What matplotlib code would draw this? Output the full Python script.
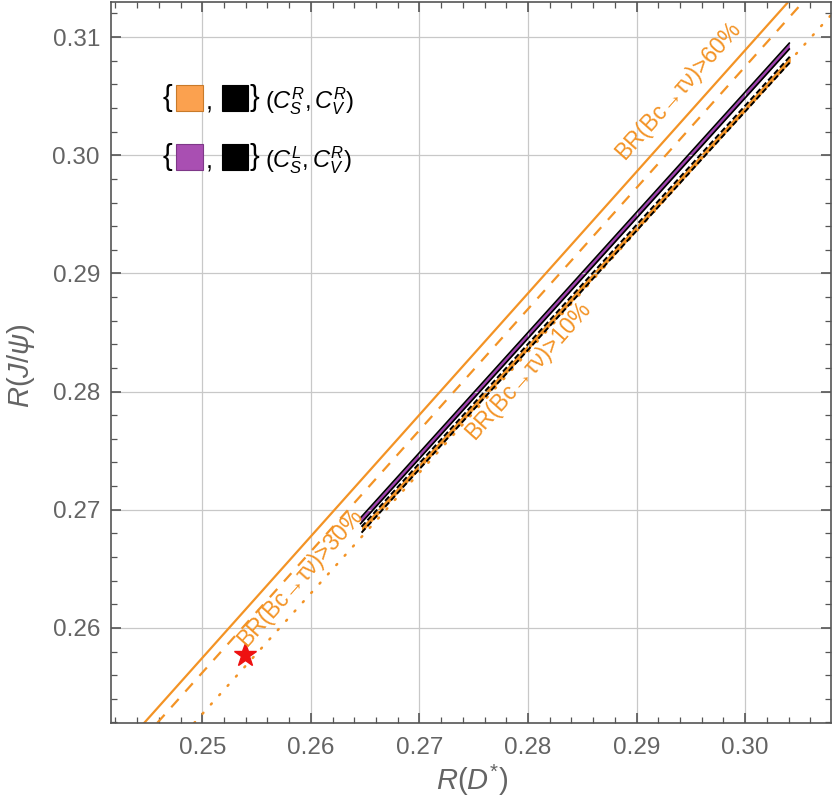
import matplotlib.pyplot as plt
from matplotlib.patches import Rectangle
import numpy as np

plt.rcParams['font.family'] = ['Liberation Sans', 'DejaVu Sans']
plt.rcParams['mathtext.fontset'] = 'custom'
plt.rcParams['mathtext.rm'] = 'Liberation Sans'
plt.rcParams['mathtext.it'] = 'Liberation Sans:italic'

# Contornos BR(Bc -> tau nu): extremos
br60_x = [0.24465, 0.30387]
br60_y = [0.25195, 0.31288]
br30_x = [0.24585, 0.30507]
br30_y = [0.25195, 0.31271]
br10_x = [0.24926, 0.30790]
br10_y = [0.25195, 0.31186]

# Regiones permitidas (bandas estrechas)
banda_L_x = [0.26458, 0.30406]   # (C_S^L, C_V^R): morada
banda_L_y = [0.26907, 0.30924]
banda_R_x = [0.26467, 0.30415]   # (C_S^R, C_V^R): naranja
banda_R_y = [0.26831, 0.30814]

# Prediccion del SM
sm_x = 0.2539
sm_y = 0.2577

xticks = [0.25, 0.26, 0.27, 0.28, 0.29, 0.30]
yticks = [0.26, 0.27, 0.28, 0.29, 0.30, 0.31]

naranja = '#F39325'
morado = '#A040B0'
gris = '#646464'

fig = plt.figure(figsize=(8.34, 8.08), dpi=100)
ax = fig.add_axes([0.1331, 0.1052, 0.8633, 0.8923])

ax.plot(br60_x, br60_y, color=naranja, lw=1.6)
ax.plot(br30_x, br30_y, color=naranja, lw=1.6, ls=(0, (5, 4.5)))
ax.plot(br10_x, br10_y, color=naranja, lw=1.8, ls=(0, (0.5, 4.5)), dash_capstyle='round')

# bandas
hw = 0.00025
xs = np.array(banda_L_x)
ys = np.array(banda_L_y)
ax.fill_between(xs, ys - hw, ys + hw, color=morado, lw=0)
ax.plot(xs, ys + hw, color='black', lw=1.2)
ax.plot(xs, ys - hw, color='black', lw=1.2)
xs = np.array(banda_R_x)
ys = np.array(banda_R_y)
ax.fill_between(xs, ys - hw, ys + hw, color=naranja, lw=0)
ax.plot(xs, ys + hw, color='black', lw=1.4, ls=(0, (3, 1.5)))
ax.plot(xs, ys - hw, color='black', lw=1.4, ls=(0, (3, 1.5)))

ax.plot(sm_x, sm_y, marker='*', color='#EE1111', ms=17, mec='#EE1111')

# etiquetas de contornos
ang = 48.3
ax.text(0.29382, 0.30551, 'BR(Bc→τν)>60%', color=naranja,
        fontsize=16.5, rotation=ang, ha='center', va='center', rotation_mode='anchor')
ax.text(0.27998, 0.28178, 'BR(Bc→τν)>10%', color=naranja,
        fontsize=16.5, rotation=ang, ha='center', va='center', rotation_mode='anchor')
ax.text(0.25904, 0.26424, 'BR(Bc→τν)>30%', color=naranja,
        fontsize=16.5, rotation=ang, ha='center', va='center', rotation_mode='anchor')

ax.set_xlim(0.2416, 0.3079)
ax.set_ylim(0.25195, 0.31297)
ax.set_xticks(xticks)
ax.set_yticks(yticks)
ax.set_xticklabels(['%.2f' % t for t in xticks])
ax.set_yticklabels(['%.2f' % t for t in yticks])
ax.set_xticks(np.arange(0.242, 0.308, 0.002), minor=True)
ax.set_yticks(np.arange(0.252, 0.313, 0.002), minor=True)
ax.tick_params(which='both', direction='in', top=True, right=True, colors='#555555',
               labelcolor=gris, labelsize=17.5)
ax.tick_params(which='major', length=7, width=1.2)
ax.tick_params(which='minor', length=4, width=0.9)
ax.tick_params(axis='x', pad=10)
ax.tick_params(axis='y', pad=8)
ax.grid(True, which='major', color='#c8c8c8', lw=0.9)
for s in ax.spines.values():
    s.set_color('#555555')
    s.set_linewidth(1.2)

fig.text(0.566, 0.022, r'$R(D^{*})$', color=gris, fontsize=21, ha='center', va='baseline')
fig.text(0.025, 0.548, r'$R(J/\psi)$', color=gris, fontsize=21, ha='center', va='center',
         rotation=90)

# leyenda manual
filas = [(0.867, '#FBA14F', '#C87A2A', r'$(C_S^R,C_V^R)$'),
         (0.785, '#A94FB2', '#7E3888', r'$(C_S^L,C_V^R)$')]
for yf, c1, e1, txt in filas:
    ax.text(0.072, yf, '{', transform=ax.transAxes, fontsize=21, va='center', ha='left',
            color='black', zorder=6)
    ax.add_patch(Rectangle((0.0903, yf - 0.018), 0.0375, 0.036, transform=ax.transAxes,
                           facecolor=c1, edgecolor=e1, lw=0.8, clip_on=False, zorder=6))
    ax.text(0.131, yf - 0.006, ',', transform=ax.transAxes, fontsize=18, va='center',
            ha='left', zorder=6)
    ax.add_patch(Rectangle((0.1542, yf - 0.018), 0.0365, 0.036, transform=ax.transAxes,
                           facecolor='black', edgecolor='black', lw=0.8, clip_on=False,
                           zorder=6))
    ax.text(0.192, yf, '}', transform=ax.transAxes, fontsize=21, va='center', ha='left',
            zorder=6)
    ax.text(0.214, yf - 0.004, txt, transform=ax.transAxes, fontsize=17, va='center',
            ha='left', zorder=6)

fig.savefig('out.png', dpi=100)
